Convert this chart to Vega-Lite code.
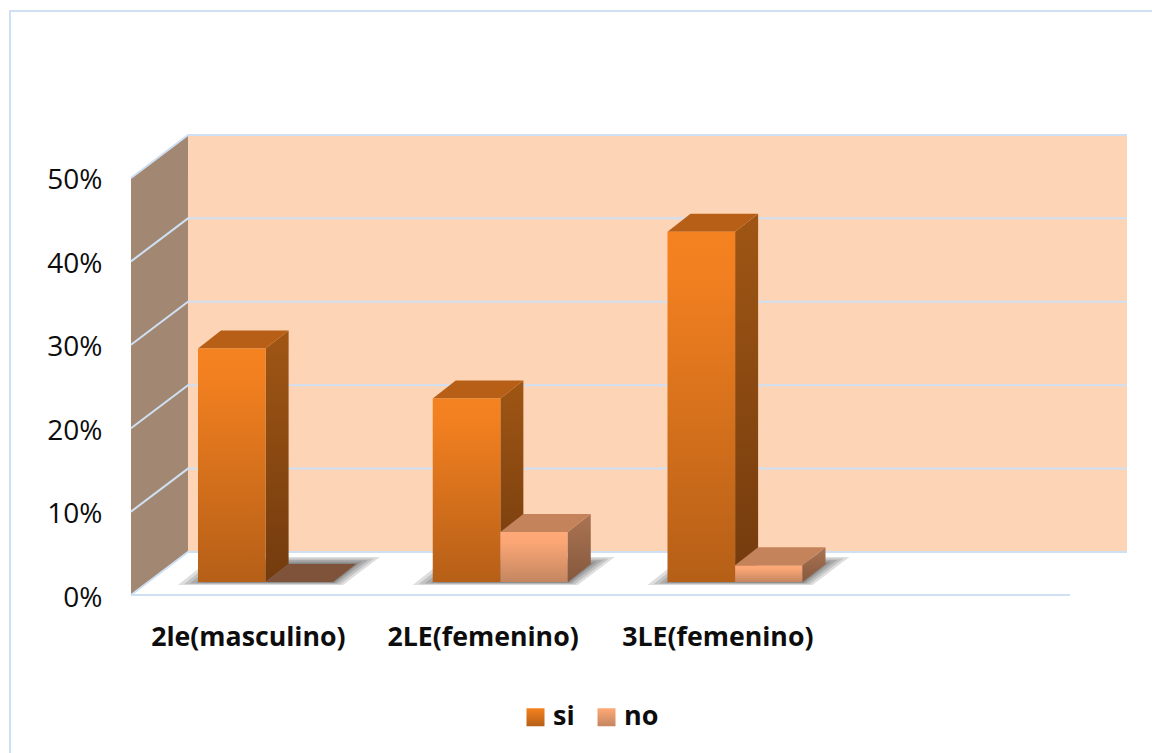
{
"$schema":"https://vega.github.io/schema/vega-lite/v6.json",
"width":1152,"height":753,
"autosize":{"type":"none"},
"padding":0,
"background":"#ffffff",
"config":{"view":{"stroke":null}},
"datasets":{
"lineas":[
{"id":"g0","o":1,"x":0,"y":0},{"id":"g0","o":2,"x":0.2428,"y":5.16},{"id":"g0","o":3,"x":4.2428,"y":5.16},
{"id":"g10","o":1,"x":0,"y":10},{"id":"g10","o":2,"x":0.2428,"y":15.16},{"id":"g10","o":3,"x":4.2428,"y":15.16},
{"id":"g20","o":1,"x":0,"y":20},{"id":"g20","o":2,"x":0.2428,"y":25.16},{"id":"g20","o":3,"x":4.2428,"y":25.16},
{"id":"g30","o":1,"x":0,"y":30},{"id":"g30","o":2,"x":0.2428,"y":35.16},{"id":"g30","o":3,"x":4.2428,"y":35.16},
{"id":"g40","o":1,"x":0,"y":40},{"id":"g40","o":2,"x":0.2428,"y":45.16},{"id":"g40","o":3,"x":4.2428,"y":45.16},
{"id":"g50","o":1,"x":0,"y":50},{"id":"g50","o":2,"x":0.2428,"y":55.16},{"id":"g50","o":3,"x":4.2428,"y":55.16},
{"id":"eje","o":1,"x":0,"y":0},{"id":"eje","o":2,"x":4,"y":0},
{"id":"marco","o":1,"x":-0.5154,"y":-18.94},{"id":"marco","o":2,"x":-0.5154,"y":70.02},{"id":"marco","o":3,"x":4.3493,"y":70.02}
],
"sombras":[
{"id":"0a","y":1.20,"x":0.2002,"x2":0.9031},{"id":"0a","y":4.56,"x":0.3493,"x2":1.0607},
{"id":"0b","y":1.28,"x":0.2258,"x2":0.8903},{"id":"0b","y":4.38,"x":0.3621,"x2":1.0351},
{"id":"0c","y":1.37,"x":0.2513,"x2":0.8775},{"id":"0c","y":4.20,"x":0.3749,"x2":1.0096},
{"id":"0d","y":1.44,"x":0.2769,"x2":0.8690},{"id":"0d","y":4.02,"x":0.3876,"x2":0.9840},
{"id":"0e","y":1.51,"x":0.3024,"x2":0.8647},{"id":"0e","y":3.84,"x":0.4004,"x2":0.9670},
{"id":"1a","y":1.20,"x":1.2002,"x2":1.9031},{"id":"1a","y":4.56,"x":1.3493,"x2":2.0607},
{"id":"1b","y":1.28,"x":1.2258,"x2":1.8903},{"id":"1b","y":4.38,"x":1.3621,"x2":2.0351},
{"id":"1c","y":1.37,"x":1.2513,"x2":1.8775},{"id":"1c","y":4.20,"x":1.3749,"x2":2.0096},
{"id":"1d","y":1.44,"x":1.2769,"x2":1.8690},{"id":"1d","y":4.02,"x":1.3876,"x2":1.9840},
{"id":"1e","y":1.51,"x":1.3024,"x2":1.8647},{"id":"1e","y":3.84,"x":1.4004,"x2":1.9670},
{"id":"2a","y":1.20,"x":2.2002,"x2":2.9031},{"id":"2a","y":4.56,"x":2.3493,"x2":3.0607},
{"id":"2b","y":1.28,"x":2.2258,"x2":2.8903},{"id":"2b","y":4.38,"x":2.3621,"x2":3.0351},
{"id":"2c","y":1.37,"x":2.2513,"x2":2.8775},{"id":"2c","y":4.20,"x":2.3749,"x2":3.0096},
{"id":"2d","y":1.44,"x":2.2769,"x2":2.8690},{"id":"2d","y":4.02,"x":2.3876,"x2":2.9840},
{"id":"2e","y":1.51,"x":2.3024,"x2":2.8647},{"id":"2e","y":3.84,"x":2.4004,"x2":2.9670}
],
"frentes":[
{"grupo":"2le(masculino)","serie":"si","valor":28,"x":0.2854,"x2":0.5734,"y":1.56,"y2":29.56},
{"grupo":"2LE(femenino)","serie":"si","valor":22,"x":1.2854,"x2":1.5734,"y":1.56,"y2":23.56},
{"grupo":"3LE(femenino)","serie":"si","valor":42,"x":2.2854,"x2":2.5734,"y":1.56,"y2":43.56},
{"grupo":"2le(masculino)","serie":"no","valor":0,"x":0.5734,"x2":0.8606,"y":1.56,"y2":1.56},
{"grupo":"2LE(femenino)","serie":"no","valor":6,"x":1.5734,"x2":1.8606,"y":1.56,"y2":7.56},
{"grupo":"3LE(femenino)","serie":"no","valor":2,"x":2.5734,"x2":2.8606,"y":1.56,"y2":3.56}
],
"ladosSi":[
{"id":"a","x":0.5734,"y":1.56,"y2":29.56},{"id":"a","x":0.6714,"y":3.72,"y2":31.72},
{"id":"b","x":1.5734,"y":1.56,"y2":23.56},{"id":"b","x":1.6714,"y":3.72,"y2":25.72},
{"id":"c","x":2.5734,"y":1.56,"y2":43.56},{"id":"c","x":2.6714,"y":3.72,"y2":45.72}
],
"techosSi":[
{"id":"a","y":29.56,"x":0.2854,"x2":0.5734},{"id":"a","y":31.72,"x":0.3834,"x2":0.6714},
{"id":"b","y":23.56,"x":1.2854,"x2":1.5734},{"id":"b","y":25.72,"x":1.3834,"x2":1.6714},
{"id":"c","y":43.56,"x":2.2854,"x2":2.5734},{"id":"c","y":45.72,"x":2.3834,"x2":2.6714}
],
"ladosNo":[
{"id":"b","x":1.8606,"y":1.56,"y2":7.56},{"id":"b","x":1.9586,"y":3.72,"y2":9.72},
{"id":"c","x":2.8606,"y":1.56,"y2":3.56},{"id":"c","x":2.9586,"y":3.72,"y2":5.72}
],
"techosNo":[
{"id":"b","y":7.56,"x":1.5734,"x2":1.8606},{"id":"b","y":9.72,"x":1.6714,"x2":1.9586},
{"id":"c","y":3.56,"x":2.5734,"x2":2.8606},{"id":"c","y":5.72,"x":2.6714,"x2":2.9586}
],
"rotulos":[
{"t":"2le(masculino)","x":0.5,"y":-5.2},
{"t":"2LE(femenino)","x":1.5,"y":-5.2},
{"t":"3LE(femenino)","x":2.5,"y":-5.2}
]
},
"layer":[
{"data":{"values":[{"x":0.2428,"x2":4.2428,"y":5.16,"y2":55.16}]},
 "mark":{"type":"rect","color":"#fdd4b5"},
 "encoding":{
  "x":{"field":"x","type":"quantitative","scale":{"domain":[-0.558,4.3493],"nice":false,"zero":false},"axis":null},
  "x2":{"field":"x2"},
  "y":{"field":"y","type":"quantitative","scale":{"domain":[-18.94,71.34],"nice":false,"zero":false},
   "axis":{"orient":"left","offset":-102,"values":[0,10,20,30,40,50],"labelExpr":"datum.value+'%'","title":null,"domain":false,"ticks":false,"grid":false,"labelPadding":0,"labelOffset":3,"labelFont":"Open Sans","labelFontSize":28,"labelColor":"#0d0d0d"}},
  "y2":{"field":"y2"}}},
{"data":{"values":[{"x":0,"y":0,"y2":50},{"x":0.2428,"y":5.16,"y2":55.16}]},
 "mark":{"type":"area","color":"#a28872"},
 "encoding":{"x":{"field":"x","type":"quantitative"},"y":{"field":"y","type":"quantitative"},"y2":{"field":"y2"}}},
{"data":{"name":"lineas"},
 "mark":{"type":"line","color":"#cfe0f4","strokeWidth":2},
 "encoding":{"x":{"field":"x","type":"quantitative"},"y":{"field":"y","type":"quantitative"},"detail":{"field":"id"},"order":{"field":"o"}}},
{"data":{"name":"sombras"},
 "mark":{"type":"area","orient":"horizontal","color":"#333333","opacity":0.16},
 "encoding":{"y":{"field":"y","type":"quantitative"},"x":{"field":"x","type":"quantitative"},"x2":{"field":"x2"},"detail":{"field":"id"}}},
{"data":{"name":"ladosSi"},
 "mark":{"type":"area","color":{"gradient":"linear","x1":0,"y1":0,"x2":0,"y2":1,"stops":[{"offset":0,"color":"#a05614"},{"offset":1,"color":"#733b0e"}]}},
 "encoding":{"x":{"field":"x","type":"quantitative"},"y":{"field":"y","type":"quantitative"},"y2":{"field":"y2"},"detail":{"field":"id"}}},
{"data":{"name":"techosSi"},
 "mark":{"type":"area","orient":"horizontal","color":"#b85f17"},
 "encoding":{"y":{"field":"y","type":"quantitative"},"x":{"field":"x","type":"quantitative"},"x2":{"field":"x2"},"detail":{"field":"id"}}},
{"data":{"values":[{"y":1.56,"x":0.5734,"x2":0.8606},{"y":3.72,"x":0.6714,"x2":0.9586}]},
 "mark":{"type":"area","orient":"horizontal","color":"#7f533a"},
 "encoding":{"y":{"field":"y","type":"quantitative"},"x":{"field":"x","type":"quantitative"},"x2":{"field":"x2"}}},
{"data":{"name":"frentes"},
 "transform":[{"filter":"datum.serie==='si'"}],
 "mark":{"type":"rect","color":{"gradient":"linear","x1":0,"y1":0,"x2":0,"y2":1,"stops":[{"offset":0,"color":"#f58220"},{"offset":0.12,"color":"#f28020"},{"offset":1,"color":"#b55f17"}]}},
 "encoding":{"x":{"field":"x","type":"quantitative"},"x2":{"field":"x2"},"y":{"field":"y","type":"quantitative"},"y2":{"field":"y2"}}},
{"data":{"name":"frentes"},
 "transform":[{"filter":"datum.serie==='no' && datum.valor>0"}],
 "mark":{"type":"rect","color":{"gradient":"linear","x1":0,"y1":0,"x2":0,"y2":1,"stops":[{"offset":0,"color":"#ffa978"},{"offset":0.2,"color":"#fba675"},{"offset":1,"color":"#c48660"}]}},
 "encoding":{"x":{"field":"x","type":"quantitative"},"x2":{"field":"x2"},"y":{"field":"y","type":"quantitative"},"y2":{"field":"y2"}}},
{"data":{"name":"ladosNo"},
 "mark":{"type":"area","color":{"gradient":"linear","x1":0,"y1":0,"x2":0,"y2":1,"stops":[{"offset":0,"color":"#ab7453"},{"offset":1,"color":"#85583d"}]}},
 "encoding":{"x":{"field":"x","type":"quantitative"},"y":{"field":"y","type":"quantitative"},"y2":{"field":"y2"},"detail":{"field":"id"}}},
{"data":{"name":"techosNo"},
 "mark":{"type":"area","orient":"horizontal","color":"#c4835b"},
 "encoding":{"y":{"field":"y","type":"quantitative"},"x":{"field":"x","type":"quantitative"},"x2":{"field":"x2"},"detail":{"field":"id"}}},
{"data":{"name":"frentes"},
 "mark":{"type":"point","filled":true,"size":0,"color":"#d97019"},
 "encoding":{
  "x":{"field":"x","type":"quantitative"},
  "y":{"field":"y","type":"quantitative"},
  "shape":{"field":"serie","type":"nominal",
   "scale":{"domain":["si","no"],"range":["square","square"]},
   "legend":{"orient":"none","legendX":522,"legendY":703.5,"direction":"horizontal","title":null,"symbolSize":324,"symbolStrokeWidth":0,"labelFont":"Open Sans","labelFontSize":27,"labelFontWeight":"bold","labelColor":"#0d0d0d","labelOffset":4,"columnPadding":18,
    "encoding":{"symbols":{"fill":{"condition":{"test":"datum.value==='si'","value":{"gradient":"linear","x1":0,"y1":0,"x2":0,"y2":1,"stops":[{"offset":0,"color":"#f58220"},{"offset":1,"color":"#b55f17"}]}},
     "value":{"gradient":"linear","x1":0,"y1":0,"x2":0,"y2":1,"stops":[{"offset":0,"color":"#ffa978"},{"offset":1,"color":"#c48660"}]}},"opacity":{"value":1}}}}}}},
{"data":{"name":"rotulos"},
 "mark":{"type":"text","font":"Open Sans","fontSize":26.7,"fontWeight":"bold","color":"#0d0d0d","align":"center","baseline":"middle"},
 "encoding":{"x":{"field":"x","type":"quantitative"},"y":{"field":"y","type":"quantitative"},"text":{"field":"t"}}}
]
}
